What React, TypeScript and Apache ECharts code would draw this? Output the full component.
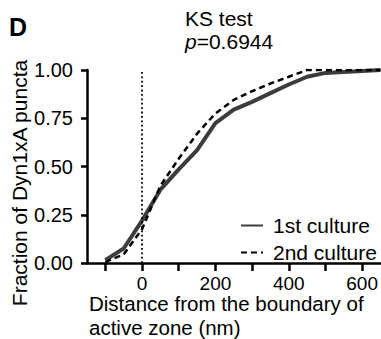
import React, { useEffect, useRef } from "react";
import * as echarts from "echarts";

const distances = [-100, -50, 0, 50, 100, 150, 200, 250, 300, 350, 400, 450, 500, 550, 600, 650];
const culture1 = [0.015, 0.075, 0.22, 0.38, 0.485, 0.585, 0.725, 0.795, 0.835, 0.88, 0.925, 0.965, 0.985, 0.99, 0.995, 1.0];
const culture2 = [0.005, 0.045, 0.175, 0.4, 0.54, 0.67, 0.775, 0.845, 0.89, 0.93, 0.965, 1.0, 1.0, 1.0, 1.0, 1.0];
const seriesNames = ["1st culture", "2nd culture"];
const xTickValues = [-100, 0, 100, 200, 300, 400, 500, 600];
const xLabelValues = [0, 200, 400, 600];

const FONT = "'Liberation Sans', Arial, Helvetica, sans-serif";

export default function App() {
  const ref = useRef<HTMLDivElement>(null);
  useEffect(() => {
    if (!ref.current) return;
    const chart = echarts.init(ref.current, undefined, { renderer: "svg" });
    const toPairs = (ys: number[]) => distances.map((x, i) => [x, ys[i]]);
    chart.setOption({
      animation: false,
      textStyle: { fontFamily: FONT },
      grid: { left: 87, right: 0, top: 70, bottom: 76, containLabel: false },
      legend: {
        data: seriesNames,
        orient: "vertical",
        left: 240,
        top: 215,
        padding: 0,
        itemWidth: 22,
        itemHeight: 8,
        itemGap: 6,
        itemStyle: { opacity: 0, borderWidth: 0 },
        textStyle: { fontSize: 21, color: "#000", fontFamily: FONT, lineHeight: 21, padding: [0, 0, 0, 5] },
      },
      xAxis: {
        type: "value",
        min: -150,
        max: 650,
        interval: 50,
        axisLine: { onZero: false, lineStyle: { color: "#000", width: 2.5 } },
        axisTick: { show: true, customValues: xTickValues, length: 8, lineStyle: { color: "#000", width: 2.5 } },
        axisLabel: { customValues: xLabelValues, fontSize: 19, lineHeight: 15, color: "#000", margin: 13, fontFamily: FONT },
        splitLine: { show: false },
      },
      yAxis: {
        type: "value",
        min: 0,
        max: 1,
        interval: 0.25,
        axisLine: { show: true, onZero: false, lineStyle: { color: "#000", width: 2.5 } },
        axisTick: { show: true, length: 6, lineStyle: { color: "#000", width: 2.5 } },
        axisLabel: {
          fontSize: 20,
          color: "#000",
          margin: 14,
          fontFamily: FONT,
          formatter: (v: number) => v.toFixed(2),
        },
        splitLine: { show: false },
      },
      series: [
        {
          name: seriesNames[0],
          type: "line",
          data: toPairs(culture1),
          symbol: "none",
          lineStyle: { color: "#3c3c3c", width: 4 },
          itemStyle: { color: "#3c3c3c" },
          z: 3,
          markLine: {
            silent: true,
            symbol: ["none", "none"],
            label: { show: false },
            lineStyle: { type: [1.8, 2.6], color: "#000", width: 1.8 },
            data: [{ xAxis: 0 }],
          },
        },
        {
          name: seriesNames[1],
          type: "line",
          data: toPairs(culture2),
          symbol: "none",
          lineStyle: { color: "#000", width: 2.5, type: [6, 4] },
          itemStyle: { color: "#000" },
          z: 4,
        },
      ],
      graphic: [
        {
          type: "text",
          x: 9,
          y: 27,
          style: { text: "D", fontSize: 25, fontWeight: "bold", fontFamily: FONT, fill: "#000", align: "left", verticalAlign: "middle" },
        },
        {
          type: "text",
          x: 185,
          y: 18,
          style: { text: "KS test", fontSize: 21, fontFamily: FONT, fill: "#000", align: "left", verticalAlign: "middle" },
        },
        {
          type: "text",
          x: 185,
          y: 41,
          style: {
            text: "{i|p}=0.6944",
            fontSize: 21,
            fontFamily: FONT,
            fill: "#000",
            align: "left",
            verticalAlign: "middle",
            rich: { i: { fontStyle: "italic", fontSize: 21, fontFamily: FONT, fill: "#000" } },
          },
        },
        {
          type: "text",
          x: 19,
          y: 183,
          rotation: Math.PI / 2,
          style: { text: "Fraction of Dyn1xA puncta", fontSize: 21, fontFamily: FONT, fill: "#000", align: "center", verticalAlign: "middle" },
        },
        {
          type: "text",
          x: 89,
          y: 303.5,
          style: { text: "Distance from the boundary of", fontSize: 20.5, lineHeight: 16, fontFamily: FONT, fill: "#000", align: "left", verticalAlign: "middle" },
        },
        {
          type: "text",
          x: 89,
          y: 327.5,
          style: { text: "active zone (nm)", fontSize: 20.5, lineHeight: 16, fontFamily: FONT, fill: "#000", align: "left", verticalAlign: "middle" },
        },
      ],
    });
    return () => chart.dispose();
  }, []);
  return <div ref={ref} style={{ position: "absolute", left: 0, top: 0, width: 381, height: 339 }} />;
}
